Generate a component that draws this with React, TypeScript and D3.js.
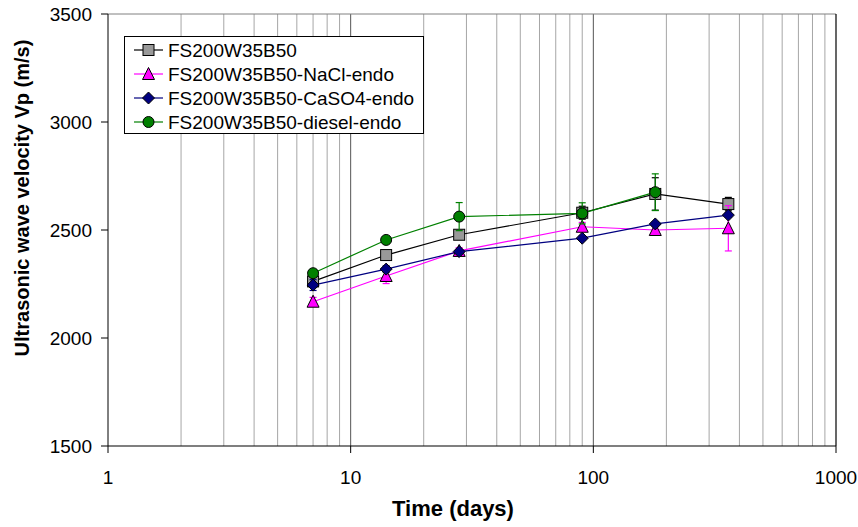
import React from "react";
import * as d3 from "d3";

const days = [7, 14, 28, 90, 180, 360];
const dieselDays = [7, 14, 28, 90, 180];

const refValues = [2262, 2384, 2478, 2580, 2667, 2620];
const refErr = [15, 15, 20, 30, 75, 31];
const naclValues = [2168, 2287, 2403, 2515, 2500, 2508];
const naclErr = [20, 35, 15, 20, 15, 105];
const caso4Values = [2245, 2319, 2400, 2462, 2528, 2569];
const caso4Err = [25, 15, 10, 10, 10, 10];
const dieselValues = [2300, 2454, 2562, 2577, 2675];
const dieselErr = [10, 10, 65, 49, 85];

const seriesNames = [
  "FS200W35B50",
  "FS200W35B50-NaCl-endo",
  "FS200W35B50-CaSO4-endo",
  "FS200W35B50-diesel-endo",
];

const yTicks = [1500, 2000, 2500, 3000, 3500];
const xTicks = [1, 10, 100, 1000];

const W = 858;
const H = 527;
const L = 108, R = 836, T = 14, B = 446;

type Series = {
  name: string;
  xs: number[];
  ys: number[];
  err: number[];
  line: string;
  fill: string;
  errColor: string;
  marker: "square" | "triangle" | "diamond" | "circle";
};

const series: Series[] = [
  { name: seriesNames[0], xs: days, ys: refValues, err: refErr, line: "#000000", fill: "#999999", errColor: "#000000", marker: "square" },
  { name: seriesNames[1], xs: days, ys: naclValues, err: naclErr, line: "#FF00FF", fill: "#FF00FF", errColor: "#FF00FF", marker: "triangle" },
  { name: seriesNames[2], xs: days, ys: caso4Values, err: caso4Err, line: "#000080", fill: "#000080", errColor: "#000080", marker: "diamond" },
  { name: seriesNames[3], xs: dieselDays, ys: dieselValues, err: dieselErr, line: "#008000", fill: "#008000", errColor: "#008000", marker: "circle" },
];

function Marker({ type, cx, cy, fill }: { type: string; cx: number; cy: number; fill: string }) {
  const s = 5.5;
  if (type === "square")
    return <rect x={cx - s} y={cy - s} width={2 * s} height={2 * s} fill={fill} stroke="#000" strokeWidth={1} />;
  if (type === "triangle")
    return (
      <polygon
        points={`${cx},${cy - s - 1} ${cx + s + 0.5},${cy + s} ${cx - s - 0.5},${cy + s}`}
        fill={fill}
        stroke="#000"
        strokeWidth={1}
      />
    );
  if (type === "diamond")
    return (
      <polygon
        points={`${cx},${cy - s - 0.5} ${cx + s + 0.5},${cy} ${cx},${cy + s + 0.5} ${cx - s - 0.5},${cy}`}
        fill={fill}
        stroke="#000"
        strokeWidth={1}
      />
    );
  return <circle cx={cx} cy={cy} r={s} fill={fill} stroke="#000" strokeWidth={1} />;
}

export default function App() {
  const x = d3.scaleLog().domain([1, 1000]).range([L, R]);
  const y = d3.scaleLinear().domain([1500, 3500]).range([B, T]);

  const minor: number[] = [];
  const major: number[] = [10, 100];
  [1, 10, 100].forEach((dec) => {
    for (let k = 2; k <= 9; k++) minor.push(dec * k);
  });

  const lineGen = d3
    .line<[number, number]>()
    .x((d) => x(d[0]))
    .y((d) => y(d[1]));

  const font = "Arial, 'Liberation Sans', sans-serif";

  return (
    <svg width={W} height={H} style={{ position: "absolute", left: 0, top: 0, background: "#fff" }} fontFamily={font}>
      <rect x={0} y={0} width={W} height={H} fill="#fff" />
      {/* grid */}
      {minor.map((v) => (
        <line key={"mi" + v} x1={x(v)} x2={x(v)} y1={T} y2={B} stroke="#a6a6a6" strokeWidth={1} />
      ))}
      {major.map((v) => (
        <line key={"ma" + v} x1={x(v)} x2={x(v)} y1={T} y2={B} stroke="#555" strokeWidth={1} />
      ))}
      <line x1={L} x2={R} y1={T} y2={T} stroke="#808080" strokeWidth={1} />
      <line x1={R} x2={R} y1={T} y2={B} stroke="#000" strokeWidth={1.2} />
      {/* axes */}
      <line x1={L} x2={L} y1={T} y2={B} stroke="#000" strokeWidth={1} />
      <line x1={L} x2={R} y1={B} y2={B} stroke="#000" strokeWidth={1.2} />
      {yTicks.map((v) => (
        <g key={"yt" + v}>
          <line x1={L - 7} x2={L} y1={y(v)} y2={y(v)} stroke="#000" />
          <text x={92} y={y(v)} dy="0.36em" textAnchor="end" fontSize={19}>
            {v}
          </text>
        </g>
      ))}
      {xTicks.map((v) => (
        <g key={"xt" + v}>
          <line x1={x(v)} x2={x(v)} y1={B} y2={B + 7} stroke="#000" />
          <text x={x(v)} y={484} textAnchor="middle" fontSize={19}>
            {v}
          </text>
        </g>
      ))}
      <text x={453} y={516} textAnchor="middle" fontSize={22} fontWeight="bold">
        Time (days)
      </text>
      <text
        transform={`translate(29,198) rotate(-90)`}
        textAnchor="middle"
        fontSize={20}
        fontWeight="bold"
      >
        Ultrasonic wave velocity Vp (m/s)
      </text>
      {/* series lines */}
      {series.map((s) => (
        <path
          key={"l" + s.name}
          d={lineGen(s.xs.map((d, i) => [d, s.ys[i]] as [number, number])) || ""}
          fill="none"
          stroke={s.line}
          strokeWidth={1.2}
        />
      ))}
      {/* series error bars and markers */}
      {series.map((s) => (
        <g key={"m" + s.name}>
          {s.xs.map((d, i) => {
            const cx = x(d);
            const y1 = y(s.ys[i] + s.err[i]);
            const y2 = y(s.ys[i] - s.err[i]);
            return (
              <g key={i}>
                <line x1={cx} x2={cx} y1={y1} y2={y2} stroke={s.errColor} strokeWidth={1.2} />
                <line x1={cx - 3.5} x2={cx + 3.5} y1={y1} y2={y1} stroke={s.errColor} strokeWidth={1.2} />
                <line x1={cx - 3.5} x2={cx + 3.5} y1={y2} y2={y2} stroke={s.errColor} strokeWidth={1.2} />
              </g>
            );
          })}
          {s.xs.map((d, i) => (
            <Marker key={"mk" + i} type={s.marker} cx={x(d)} cy={y(s.ys[i])} fill={s.fill} />
          ))}
        </g>
      ))}
      {/* legend */}
      <rect x={124.5} y={36.5} width={299} height={97} fill="#fff" stroke="#000" strokeWidth={1} />
      {series.map((s, i) => {
        const ly = 50 + i * 24;
        return (
          <g key={"lg" + s.name}>
            <line x1={134} x2={163} y1={ly} y2={ly} stroke={s.line} strokeWidth={1.2} />
            <Marker type={s.marker} cx={148.5} cy={ly} fill={s.fill} />
            <text x={168} y={ly} dy="0.36em" fontSize={19}>
              {s.name}
            </text>
          </g>
        );
      })}
    </svg>
  );
}
